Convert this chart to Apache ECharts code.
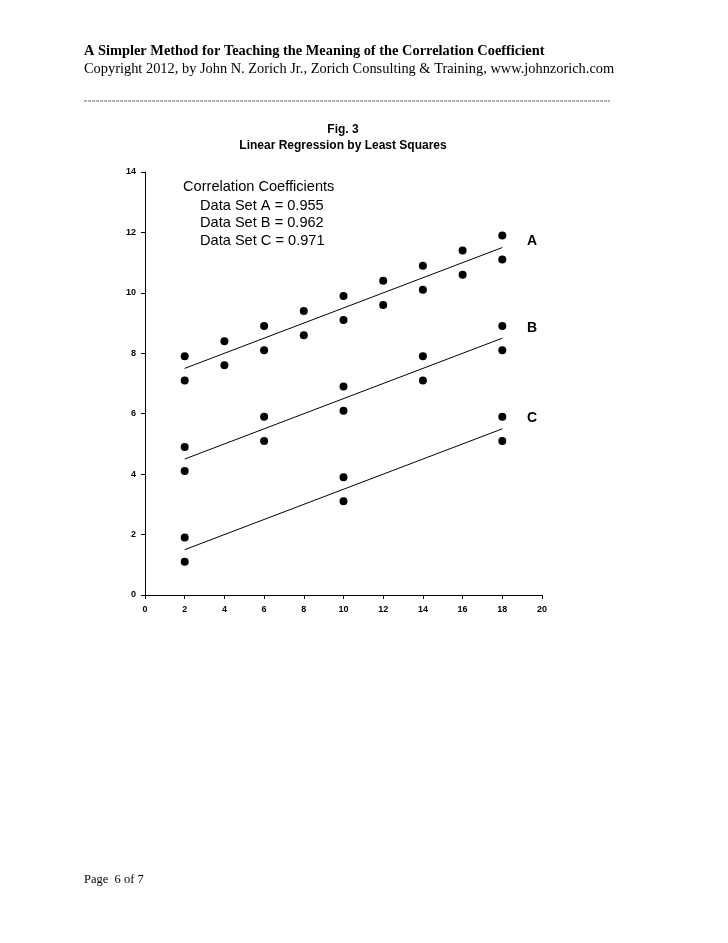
<!DOCTYPE html>
<html>
<head>
<meta charset="utf-8">
<script src="https://cdn.jsdelivr.net/npm/echarts@6/dist/echarts.min.js"></script>
<style>
  html, body { margin: 0; padding: 0; background: #fff; }
  #chart { width: 728px; height: 943px; }
</style>
</head>
<body>
<div id="chart"></div>
<script>
// data sets
const setA = [
  [2, 7.9], [2, 7.1], [4, 8.4], [4, 7.6], [6, 8.9], [6, 8.1], [8, 9.4], [8, 8.6],
  [10, 9.9], [10, 9.1], [12, 10.4], [12, 9.6], [14, 10.9], [14, 10.1],
  [16, 11.4], [16, 10.6], [18, 11.9], [18, 11.1]
]
const setB = [
  [2, 4.9], [2, 4.1], [6, 5.9], [6, 5.1], [10, 6.9], [10, 6.1],
  [14, 7.9], [14, 7.1], [18, 8.9], [18, 8.1]
]
const setC = [
  [2, 1.9], [2, 1.1], [10, 3.9], [10, 3.1], [18, 5.9], [18, 5.1]
]
// fitted lines (end points)
const fitA = [[2, 7.5], [18, 11.5]]
const fitB = [[2, 4.5], [18, 8.5]]
const fitC = [[2, 1.5], [18, 5.5]]
const corrTitle = 'Correlation Coefficients'
const corrLines = [
  'Data Set A = 0.955',
  'Data Set B = 0.962',
  'Data Set C = 0.971'
]

const serif = 'Liberation Serif'
const sans = 'Liberation Sans'

const chart = echarts.init(document.getElementById('chart'))

function dots(name, data) {
  return {
    name: name,
    type: 'scatter',
    symbol: 'circle',
    symbolSize: 8,
    itemStyle: { color: '#000', opacity: 1 },
    data: data,
    silent: true
  }
}
function fit(name, data) {
  return {
    name: name,
    type: 'line',
    symbol: 'none',
    lineStyle: { color: '#000', width: 1 },
    data: data,
    silent: true
  }
}
function letter(t, y) {
  return {
    type: 'text', x: 532, y: y,
    style: { text: t, font: 'bold 14px "' + sans + '"', fill: '#000',
      textAlign: 'center', textVerticalAlign: 'middle' }
  }
}

const option = {
  backgroundColor: '#fff',
  animation: false,
  grid: { left: 145, right: 186, top: 172, bottom: 348 },
  xAxis: {
    type: 'value',
    min: 0,
    max: 20,
    interval: 2,
    axisLine: { lineStyle: { color: '#000', width: 1 } },
    axisTick: { show: true, length: 4, lineStyle: { color: '#000' } },
    splitLine: { show: false },
    axisLabel: { color: '#000', fontFamily: sans, fontWeight: 'bold', fontSize: 9, margin: 10 }
  },
  yAxis: {
    type: 'value',
    min: 0,
    max: 14,
    interval: 2,
    axisLine: { show: true, lineStyle: { color: '#000', width: 1 } },
    axisTick: { show: true, length: 4, lineStyle: { color: '#000' } },
    splitLine: { show: false },
    axisLabel: { color: '#000', fontFamily: sans, fontWeight: 'bold', fontSize: 9, margin: 9 }
  },
  series: [
    dots('A', setA), dots('B', setB), dots('C', setC),
    fit('fitA', fitA), fit('fitB', fitB), fit('fitC', fitC)
  ],
  graphic: [
    {
      type: 'text', left: 84, top: 44,
      style: { text: 'A Simpler Method for Teaching the Meaning of the Correlation Coefficient',
        font: 'bold 14.4px "' + serif + '"', fill: '#000' }
    },
    {
      type: 'text', left: 84, top: 62,
      style: { text: 'Copyright 2012, by John N. Zorich Jr., Zorich Consulting & Training, www.johnzorich.com',
        font: '14.4px "' + serif + '"', fill: '#000' }
    },
    {
      type: 'line',
      shape: { x1: 84, y1: 101, x2: 610, y2: 101 },
      style: { stroke: '#333', lineWidth: 0.8, lineDash: [3, 1] }
    },
    {
      type: 'text', x: 343, y: 130,
      style: { text: 'Fig. 3', font: 'bold 12px "' + sans + '"', fill: '#000',
        textAlign: 'center', textVerticalAlign: 'middle' }
    },
    {
      type: 'text', x: 343, y: 146,
      style: { text: 'Linear Regression by Least Squares', font: 'bold 12px "' + sans + '"', fill: '#000',
        textAlign: 'center', textVerticalAlign: 'middle' }
    },
    {
      type: 'text', left: 183, top: 179,
      style: { text: corrTitle, font: '14.6px "' + sans + '"', fill: '#000' }
    },
    {
      type: 'text', left: 200, top: 197,
      style: { text: corrLines.join('\n'), font: '14.6px "' + sans + '"', fill: '#000', lineHeight: 17.5 }
    },
    letter('A', 241),
    letter('B', 328),
    letter('C', 418),
    {
      type: 'text', left: 84, top: 873,
      style: { text: 'Page  6 of 7', font: '12.5px "' + serif + '"', fill: '#000' }
    }
  ]
}

chart.setOption(option)
</script>
</body>
</html>
